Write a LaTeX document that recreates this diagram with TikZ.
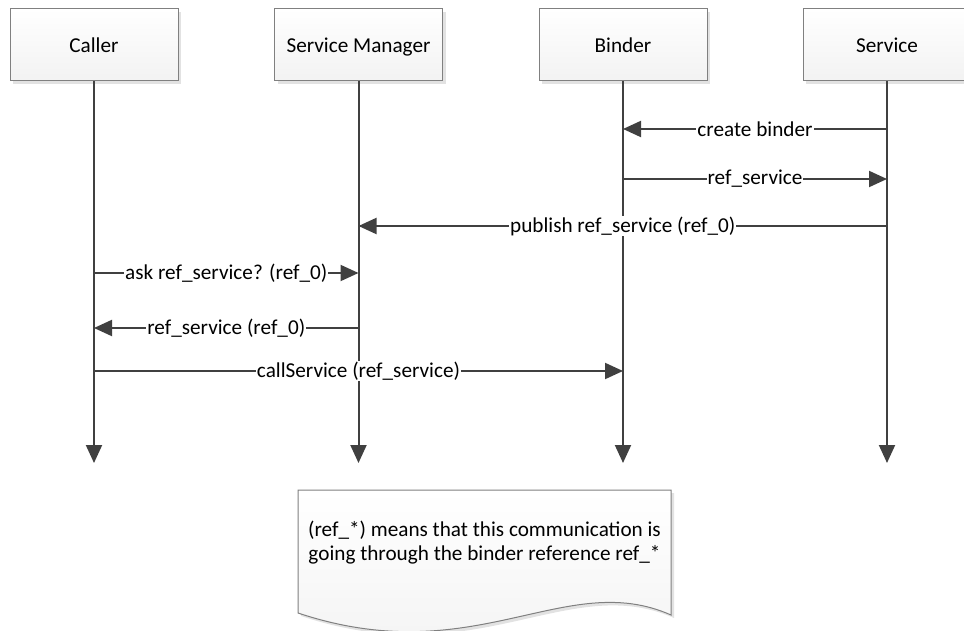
\documentclass[tikz,border=0pt]{standalone}
\usepackage{fontspec}
\setmainfont{Carlito}
\usetikzlibrary{positioning,calc,arrows.meta,shadows}
\definecolor{linegray}{HTML}{404040}
\definecolor{boxgray}{HTML}{808080}
\tikzset{>={Triangle[length=9pt,width=8pt]}}

\begin{document}
\begin{tikzpicture}[
    x=0.5pt, y=-0.5pt,
    font=\fontsize{10.6}{12}\selectfont,
    actor/.style={rectangle, draw=boxgray, line width=0.5pt, top color=white, bottom color=gray!10,
        minimum width=84pt, minimum height=36pt, text height=1.6ex, text depth=0.1ex,
        drop shadow={shadow xshift=1.5pt, shadow yshift=-1.5pt, fill=gray!45, opacity=0.5}},
    lifeline/.style={->, draw=linegray, line width=1pt},
    msg/.style={->, draw=linegray, line width=1pt},
    lbl/.style={fill=white, inner sep=0.5pt, text=black}
]
\useasboundingbox (0,0) rectangle (964,631);

% actors
\node[actor] (caller) at (94,45) {Caller};
\node[actor] (manager) at (358.5,45) {Service Manager};
\node[actor] (binder) at (623,45) {Binder};
\node[actor] (service) at (887,45) {Service};

% life lines
\coordinate (bottom) at (0,463);
\foreach \a in {caller,manager,binder,service}
    \draw[lifeline] (\a.south) -- (\a.south |- bottom);

% message rows
\coordinate (r1) at (0,129);
\coordinate (r2) at (0,179);
\coordinate (r3) at (0,226);
\coordinate (r4) at (0,273);
\coordinate (r5) at (0,328);
\coordinate (r6) at (0,371);

\draw[msg] (service.south |- r1) -- node[lbl] {create binder} (binder.south |- r1);
\draw[msg] (binder.south |- r2) -- node[lbl] {ref\_service} (service.south |- r2);
\draw[msg] (service.south |- r3) -- node[lbl] {publish ref\_service (ref\_0)} (manager.south |- r3);
\draw[msg] (caller.south |- r4) -- node[lbl] {ask ref\_service? (ref\_0)} (manager.south |- r4);
\draw[msg] (manager.south |- r5) -- node[lbl] {ref\_service (ref\_0)} (caller.south |- r5);
\draw[msg] (caller.south |- r6) -- node[lbl] {callService (ref\_service)} (binder.south |- r6);

% note
\path[draw=boxgray, line width=0.5pt, top color=white, bottom color=gray!10,
    drop shadow={shadow xshift=1.5pt, shadow yshift=-1.5pt, fill=gray!45, opacity=0.5}]
    (298,490) -- (671,490) -- (671,615)
    .. controls (565,568) and (475,672) .. (298,613) -- cycle;
\node[align=center] (note) at (484.5,543)
    {(ref\_*) means that this communication is\\going through the binder reference ref\_*};
\end{tikzpicture}
\end{document}
